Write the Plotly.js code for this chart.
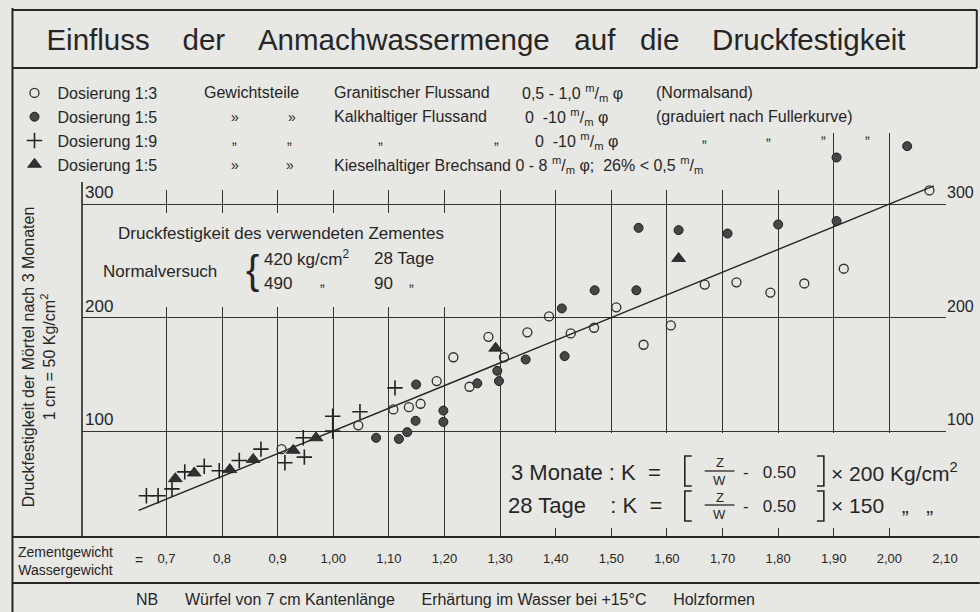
<!DOCTYPE html>
<html><head><meta charset="utf-8">
<script src="https://cdn.plot.ly/plotly-3.0.1.min.js"></script>
<style>html,body{margin:0;padding:0;background:#e7e7e3}</style>
</head><body><div id="chart" style="width:980px;height:612px"></div>
<script>
// ---- data ----
const ratioTicks = [0.7,0.8,0.9,1.0,1.1,1.2,1.3,1.4,1.5,1.6,1.7,1.8,1.9,2.0,2.1];
const ratioLabels = ['0,7','0,8','0,9','1,00','1,10','1,20','1,30','1,40','1,50','1,60','1,70','1,80','1,90','2,00','2,10'];
const strengthTicks = [100,200,300];
const strengthLabels = ['100','200','300'];
const seriesNames = ['Dosierung 1:3','Dosierung 1:5','Dosierung 1:9','Dosierung 1:5'];

// o  Dosierung 1:3  Granitischer Flussand (Normalsand)
const normalX = [0.907,1.045,1.108,1.136,1.157,1.186,1.216,1.245,1.279,1.307,1.349,1.388,1.427,1.469,1.509,1.558,1.607,1.668,1.725,1.786,1.847,1.918,2.072];
const normalY = [84,105,119,121,124,144,165,139,183,165,187,201,186,191,209,176,193,229,231,222,230,243,312];
// ●  Dosierung 1:5  Kalkhaltiger Flussand
const kalkX = [1.077,1.118,1.133,1.148,1.149,1.198,1.198,1.259,1.295,1.298,1.346,1.416,1.411,1.470,1.545,1.549,1.621,1.709,1.800,1.905,1.905,2.032];
const kalkY = [94,93,99,109,141,118,108,142,153,144,163,166,208,224,224,279,277,274,282,285,341,351];
// +  Dosierung 1:9
const mixX = [0.664,0.685,0.710,0.733,0.768,0.795,0.831,0.870,0.913,0.948,0.946,0.999,0.999,1.048,1.111];
const mixY = [43,43,49,64,69,65,74,84,72,77,94,100,113,117,138];
// ▲  Dosierung 1:5  Kieselhaltiger Brechsand
const kieselX = [0.716,0.750,0.814,0.856,0.928,0.969,1.292,1.621];
const kieselY = [58,63,66,75,83,94,173,252];
// fitted line K = (Z/W - 0.50) x 200
const fitX = [0.65, 2.08];
const fitY = [30, 316];

// ---- layout helpers (pixel -> paper) ----
const W = 980, H = 612, L = 76, R = 946, T = 133, B = 537;
const px = v => (v - L) / (R - L);
const py = v => (B - v) / (B - T);
const ink = '#262626';
const paper = '#e7e7e3';
const FONT = 'Liberation Sans, Arial, sans-serif';

function txt(text, x, y, size, anchor, extra) {
  return Object.assign({text: text, x: px(x), y: py(y), xref: 'paper', yref: 'paper',
    xanchor: anchor || 'left', yanchor: 'middle', showarrow: false,
    font: {size: size, color: ink, family: FONT}}, extra || {});
}
function hline(x0, x1, y, w) {
  return {type: 'line', xref: 'paper', yref: 'paper', x0: px(x0), x1: px(x1), y0: py(y), y1: py(y),
    line: {color: ink, width: w || 2}};
}
function vline(x, y0, y1, w) {
  return {type: 'line', xref: 'paper', yref: 'paper', x0: px(x), x1: px(x), y0: py(y0), y1: py(y1),
    line: {color: ink, width: w || 2}};
}
function mask(x0, x1, y0, y1) {
  return {type: 'rect', xref: 'paper', yref: 'paper', x0: px(x0), x1: px(x1), y0: py(y0), y1: py(y1),
    fillcolor: paper, line: {width: 0}, layer: 'above'};
}
function bracket(xEdge, xTip, y0, y1) {
  const p = 'M ' + px(xTip) + ' ' + py(y0) + ' L ' + px(xEdge) + ' ' + py(y0) +
            ' L ' + px(xEdge) + ' ' + py(y1) + ' L ' + px(xTip) + ' ' + py(y1);
  return {type: 'path', xref: 'paper', yref: 'paper', path: p, line: {color: ink, width: 1.6}};
}

const mm = '<sup>m</sup>/<sub>m</sub>';
const gap = '\u00a0\u00a0\u00a0\u00a0\u00a0\u00a0';

const traces = [
  {x: fitX, y: fitY, mode: 'lines', line: {color: ink, width: 1.4}, showlegend: false, hoverinfo: 'skip'},
  {x: normalX, y: normalY, mode: 'markers', name: seriesNames[0],
   marker: {symbol: 'circle-open', size: 9, color: '#2e2e2e', line: {width: 1.3}}},
  {x: kalkX, y: kalkY, mode: 'markers', name: seriesNames[1],
   marker: {symbol: 'circle', size: 9, color: '#474747', line: {color: '#1e1e1e', width: 1}}},
  {x: mixX, y: mixY, mode: 'markers', name: seriesNames[2],
   marker: {symbol: 'cross-thin-open', size: 11, color: '#222', line: {width: 1.6}}},
  {x: kieselX, y: kieselY, mode: 'markers', name: seriesNames[3],
   marker: {symbol: 'triangle-up', size: 12, color: '#303030', line: {color: '#1e1e1e', width: 0.8}}},
  {x: [fitX[0]], y: [fitY[0]], yaxis: 'y2', mode: 'markers', marker: {opacity: 0}, showlegend: false, hoverinfo: 'skip'}
];

const annotations = [
  // y-axis title
  txt('Druckfestigkeit der Mörtel nach 3 Monaten<br>1 cm = 50 Kg/cm<sup>2</sup>', 33, 357, 16, 'center', {textangle: -90}),
  // legend columns
  txt('Gewichtsteile', 197, 93, 16),
  txt('Granitischer Flussand', 328, 93, 16),
  txt('0,5 - 1,0 ' + mm + ' φ', 517, 93, 16),
  txt('(Normalsand)', 652, 93, 16),
  txt('»', 230, 117, 14, 'center'), txt('»', 287, 117, 14, 'center'),
  txt('Kalkhaltiger Flussand', 328, 117, 16),
  txt('0  -10 ' + mm + ' φ', 520, 117, 16),
  txt('(graduiert nach Fullerkurve)', 652, 117, 16),
  txt('„', 230, 139, 14, 'center'), txt('„', 285, 139, 14, 'center'),
  txt('„', 377, 139, 14, 'center'), txt('„', 493, 139, 14, 'center'),
  txt('0  -10 ' + mm + ' φ', 530, 141, 16),
  txt('„', 703, 137, 14, 'center'), txt('„', 767, 135, 14, 'center'),
  txt('„', 823, 133, 14, 'center'), txt('„', 867, 133, 14, 'center'),
  txt('»', 230, 165, 14, 'center'), txt('»', 285, 165, 14, 'center'),
  txt('Kieselhaltiger Brechsand 0 - 8 ' + mm + ' φ;  26% < 0,5 ' + mm, 328, 165, 16),
  // cement strength box
  txt('Druckfestigkeit des verwendeten Zementes', 110, 233, 17),
  txt('Normalversuch', 95, 271, 17),
  txt('{', 248, 270, 40, 'center', {font: {size: 40, color: ink, family: 'Liberation Sans'}}),
  txt('420 kg/cm<sup>2</sup>', 257, 258, 17),
  txt('28 Tage', 368, 258, 17),
  txt('490', 257, 283, 17), txt('„', 318, 281, 14, 'center'),
  txt('90', 368, 283, 17), txt('„', 408, 281, 14, 'center'),
  // formula box
  txt('3 Monate : K  =', 506, 472, 22),
  txt('28 Tage    : K  =', 503, 505, 22),
  txt('Z', 718, 462, 13, 'center'), txt('W', 718, 480, 13, 'center'),
  txt('Z', 718, 497, 13, 'center'), txt('W', 718, 514, 13, 'center'),
  txt('-   0.50', 740, 472, 17), txt('-   0.50', 740, 506, 17),
  txt('× 200 Kg/cm<sup>2</sup>', 828, 472, 21),
  txt('× 150   „   „', 828, 505, 21),
  // x axis caption
  txt('Zementgewicht<br>Wassergewicht', 10, 561, 14),
  txt('=', 133, 560, 14, 'center'),
  // footnote
  txt('NB' + gap + 'Würfel von 7 cm Kantenlänge' + gap + 'Erhärtung im Wasser bei +15°C' + gap + 'Holzformen', 128, 599, 16)
];

const shapes = [
  mask(122, 826, 130, 190),
  mask(122, 488, 213, 307),
  mask(498, 944, 433, 528),
  // frame
  vline(6, 8, 612), hline(6, 977, 10), vline(977, 10, 68), hline(6, 977, 68),
  hline(6, 980, 537), hline(6, 980, 583),
  vline(76, 182, 537, 1.6),
  // formula brackets and fraction bars
  bracket(683, 690, 456, 486), bracket(683, 690, 491, 521),
  bracket(823, 816, 456, 486), bracket(823, 816, 491, 521),
  hline(703, 733, 471, 1.3), hline(703, 733, 505, 1.3)
];

const layout = {
  width: W, height: H,
  margin: {l: L, r: W - R, t: T, b: H - B, pad: 0},
  paper_bgcolor: paper, plot_bgcolor: 'rgba(0,0,0,0)',
  font: {family: FONT, color: ink},
  title: {text: 'Einfluss\u00a0\u00a0\u00a0\u00a0der\u00a0\u00a0\u00a0\u00a0Anmachwassermenge\u00a0\u00a0\u00a0auf\u00a0\u00a0\u00a0die\u00a0\u00a0\u00a0\u00a0Druckfestigkeit',
          x: 476 / W, xanchor: 'center', y: 1 - 40 / H, yanchor: 'middle', xref: 'container', yref: 'container',
          font: {size: 29.5, color: ink, family: FONT}},
  xaxis: {range: [0.5482, 2.1018], tickvals: ratioTicks, ticktext: ratioLabels, showgrid: true,
          gridcolor: '#333', gridwidth: 1, zeroline: false, showline: false, ticks: '',
          tickfont: {size: 13, color: ink}, ticklabelstandoff: 12, fixedrange: true},
  yaxis: {range: [6.6, 362.6], tickvals: strengthTicks, ticktext: strengthLabels, showgrid: true,
          gridcolor: '#333', gridwidth: 1, zeroline: false, showline: false, ticks: '',
          ticklabelposition: 'inside top', tickfont: {size: 17, color: ink}},
  yaxis2: {range: [6.6, 362.6], tickvals: strengthTicks, ticktext: strengthLabels, overlaying: 'y', side: 'right',
          showgrid: false, zeroline: false, showline: false, ticks: '',
          ticklabelposition: 'outside top', tickfont: {size: 16, color: ink}},
  showlegend: true,
  legend: {x: px(5), y: py(76), xanchor: 'left', yanchor: 'top', bgcolor: 'rgba(0,0,0,0)',
           font: {size: 16, color: ink, family: FONT}, traceorder: 'normal', itemwidth: 36},
  annotations: annotations,
  shapes: shapes
};

Plotly.newPlot('chart', traces, layout, {displayModeBar: false, staticPlot: true});
</script>
</body></html>
